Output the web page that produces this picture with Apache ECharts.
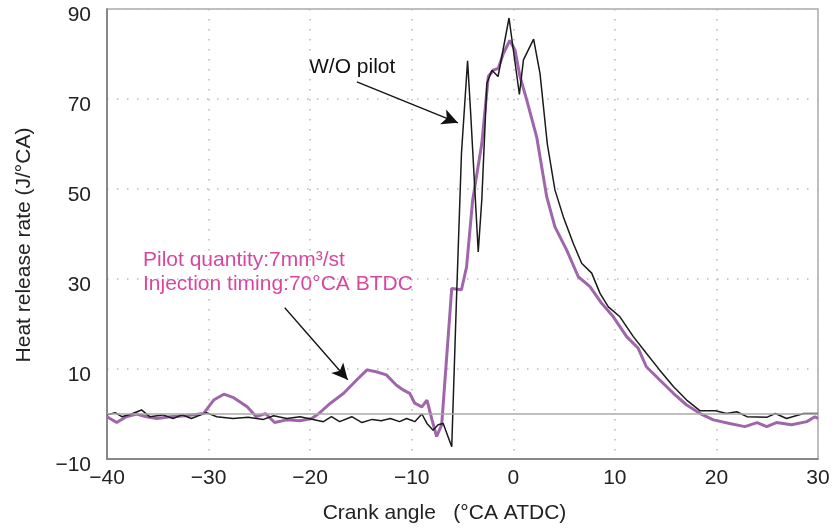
<!DOCTYPE html>
<html>
<head>
<meta charset="utf-8">
<script src="https://cdn.jsdelivr.net/npm/echarts@6/dist/echarts.min.js"></script>
<style>
  html, body { margin: 0; padding: 0; background: #fff; }
  #chart { width: 835px; height: 530px; }
</style>
</head>
<body>
<div id="chart"></div>
<script>
// W/O pilot (black)
var woX = [-40, -39.2, -38.55, -37.6, -36.6, -35.8, -34.5, -33.5, -32.6, -31.7, -30.2, -29.2, -27.6, -26.1, -24.6, -23.6, -22.3, -21.0, -19.7, -18.7, -17.9, -17.1, -15.9, -14.9, -13.9, -13.0, -12.1, -11.2, -10.5, -9.7, -9.0, -8.5, -7.9, -7.4, -6.9, -6.06, -5.6, -5.1, -4.5, -4.2, -3.45, -3.1, -2.6, -2.1, -1.5, -0.42, 0.6, 1.0, 2.0, 2.63, 3.35, 4.1, 4.93, 5.91, 6.73, 7.72, 8.54, 9.36, 10.5, 11.82, 13.1, 14.4, 15.76, 17.07, 18.4, 19.9, 21.0, 22.0, 23.0, 25.0, 25.8, 26.9, 28.6, 30];
var woY = [-0.2, 0.3, -0.6, 0, 0.9, -0.6, -0.2, -1, -0.2, -1, 0.3, -0.6, -1, -0.7, -1.2, -0.4, -1, -0.6, -1.2, -1.7, -0.6, -1.7, -0.6, -1.9, -1.2, -1.5, -1, -1.7, -1, -1.7, 0, -2.1, -3.6, -2.4, -2.1, -7.3, 25, 58, 78.5, 67, 36, 47.6, 73.5, 76.4, 75, 88, 71, 78.7, 83.3, 75.7, 60, 49.8, 43.8, 37.9, 33.5, 31.3, 26.8, 23.8, 21.6, 17.2, 13.5, 9.8, 6.1, 3.1, 0.7, 0.7, 0.1, 0.5, -0.6, -0.7, 0.1, -1, 0.1, 0.1];

// Pilot quantity 7mm3/st, injection 70 CA BTDC (purple)
var pilotX = [-40, -39.05, -38.1, -37.1, -36.1, -35.1, -33.8, -32.2, -30.5, -29.5, -28.5, -27.6, -26.2, -25.3, -24.4, -23.5, -22.3, -21, -19.85, -19.2, -18.0, -16.7, -15.4, -14.4, -13.5, -12.5, -11.5, -10.8, -10.2, -9.7, -9.0, -8.5, -8.0, -7.55, -7.05, -6.06, -5.1, -4.6, -4.0, -3.1, -2.46, -1.97, -1.48, -0.98, -0.35, 0.17, 0.66, 1.32, 2.3, 3.29, 4.1, 5.26, 6.4, 7.55, 8.7, 9.85, 11.16, 12.3, 13.1, 14.4, 15.76, 17.07, 18.4, 19.7, 21.3, 22.8, 24.0, 24.95, 25.9, 27.4, 28.9, 29.7, 30];
var pilotY = [-0.6, -1.9, -0.6, 0, -0.6, -1, -0.6, -0.4, 0.1, 3.1, 4.4, 3.7, 1.6, -0.6, 0.1, -1.9, -1.3, -1.5, -1, 0, 2.4, 4.6, 7.6, 9.8, 9.4, 8.7, 6.4, 5.3, 4.6, 2.4, 1.6, 3.1, -1.3, -5, -2.4, 27.9, 27.6, 32.7, 47.5, 60.1, 75, 76.4, 76.8, 80.1, 83, 80.9, 75, 69.8, 61.6, 48.3, 41.6, 36.4, 30.5, 28.3, 24.6, 21.6, 17.2, 14.6, 10.5, 7.6, 4.6, 2, 0.1, -1.3, -2.1, -2.8, -1.9, -2.8, -1.9, -2.4, -1.7, -0.6, -1];

// annotation arrows, [start, end] in data units
var arrowWO = [[-15.4, 73.8], [-5.45, 64.7]];
var arrowPilot = [[-22.5, 23.6], [-16.3, 7.6]];

function pairs(xs, ys) {
  return xs.map(function (x, i) { return [x, ys[i]]; });
}
function minus(v) {
  return String(v).replace('-', '\u2212');
}

var chart = echarts.init(document.getElementById('chart'));
var dotted = { color: '#b8b8b8', width: 1.5, type: [1.5, 8.5] };
var font = 'Liberation Sans';

var option = {
  animation: false,
  grid: { left: 107, right: 17, top: 9, bottom: 71, show: true, borderColor: '#aaa', borderWidth: 1.5 },
  xAxis: {
    type: 'value', min: -40, max: 30, interval: 10,
    axisLine: { show: true, onZero: false, lineStyle: { color: '#777', width: 1.5 } },
    axisTick: { show: false },
    axisLabel: { fontSize: 21, color: '#222', margin: 9, fontFamily: font, formatter: minus },
    splitLine: { show: true, lineStyle: dotted },
    name: 'Crank angle   (°CA ATDC)', nameLocation: 'middle', nameGap: 44,
    nameTextStyle: { fontSize: 21, color: '#222', fontFamily: font, padding: [0, 36, 0, 0] }
  },
  yAxis: [
    {
      type: 'value', min: -10, max: 90, interval: 10,
      axisLine: { show: true, onZero: false, lineStyle: { color: '#777', width: 1.5 } },
      axisTick: { show: false },
      axisLabel: {
        fontSize: 21, color: '#222', margin: 16, fontFamily: font,
        verticalAlign: 'top', lineHeight: 12,
        formatter: function (v) { return (v + 10) % 20 === 0 ? minus(v) : ''; }
      },
      splitLine: { show: false },
      name: 'Heat release rate (J/°CA)', nameLocation: 'middle', nameGap: 72,
      nameTextStyle: { fontSize: 21, color: '#222', fontFamily: font, padding: [0, 22, 0, 0] }
    },
    {
      // gridlines only: 0..100 here is -10..90 on the main axis
      type: 'value', min: 0, max: 100, interval: 20, position: 'left',
      axisLine: { show: false }, axisTick: { show: false }, axisLabel: { show: false },
      splitLine: { show: true, lineStyle: dotted }
    }
  ],
  graphic: [
    { type: 'text', left: 309, top: 57, style: { text: 'W/O pilot', fontSize: 21, fontFamily: font, fill: '#111' } },
    { type: 'text', left: 143, top: 250, style: { text: 'Pilot quantity:7mm³/st', fontSize: 21, fontFamily: font, fill: '#d6479e' } },
    { type: 'text', left: 143, top: 274, style: { text: 'Injection timing:70°CA BTDC', fontSize: 21, fontFamily: font, fill: '#d6479e' } }
  ],
  series: [
    {
      name: 'Pilot', type: 'line', data: pairs(pilotX, pilotY),
      showSymbol: false, smooth: false,
      lineStyle: { color: '#a066ac', width: 3 },
      markLine: {
        silent: true, symbol: 'none', label: { show: false },
        lineStyle: { color: '#aaa', width: 1.5, type: 'solid' },
        data: [{ yAxis: 0 }]
      }
    },
    {
      name: 'W/O pilot', type: 'line', data: pairs(woX, woY),
      showSymbol: false,
      lineStyle: { color: '#1a1a1a', width: 1.5 },
      markLine: {
        silent: true, symbol: ['none', 'arrow'], symbolSize: [12, 16], label: { show: false },
        lineStyle: { color: '#111', width: 1.3, type: 'solid' },
        data: [
          [{ coord: arrowWO[0] }, { coord: arrowWO[1] }],
          [{ coord: arrowPilot[0] }, { coord: arrowPilot[1] }]
        ]
      }
    }
  ]
};
chart.setOption(option);
</script>
</body>
</html>
